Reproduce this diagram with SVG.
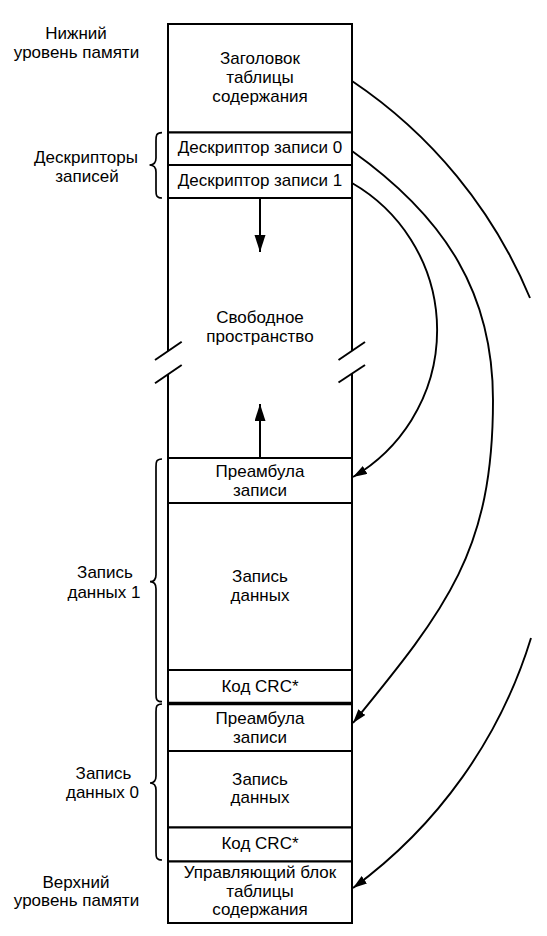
<svg xmlns="http://www.w3.org/2000/svg" width="547" height="936" viewBox="0 0 547 936">
  <style>
    .t { font-family: "Liberation Sans", Arial, sans-serif; font-size: 17px; fill: #000; text-anchor: middle; }
    .box { fill: #fff; stroke: #000; stroke-width: 2; }
    .ln { stroke: #000; stroke-width: 2; fill: none; }
    .br { stroke: #000; stroke-width: 1.7; fill: none; }
    .arc { stroke: #000; stroke-width: 1.9; fill: none; }
  </style>
  <defs>
    <marker id="ah" markerUnits="userSpaceOnUse" markerWidth="15" markerHeight="10" refX="14" refY="4.5" orient="auto">
      <path d="M0,0 L14,4.5 L0,9 z" fill="#000"/>
    </marker>
    <marker id="ahv" markerUnits="userSpaceOnUse" markerWidth="18" markerHeight="12" refX="17" refY="5.5" orient="auto">
      <path d="M0,0 L17,5.5 L0,11 z" fill="#000"/>
    </marker>
  </defs>
  <rect width="547" height="936" fill="#fff"/>

  <!-- Left labels -->
  <g id="label-lower-memory">
    <text class="t" x="76" y="38.5">Нижний</text>
    <text class="t" x="76.5" y="57.5">уровень памяти</text>
  </g>
  <g id="label-descriptors">
    <text class="t" x="86" y="163">Дескрипторы</text>
    <text class="t" x="87" y="182">записей</text>
    <path class="br" d="M162,132.7 C156,132.7 156,135.7 156,140.7 L156,158 C156,163 154,165 149.5,165 C154,165 156,167 156,172 L156,190 C156,195 156,198 162,198"/>
  </g>
  <g id="label-record1">
    <text class="t" x="105" y="578">Запись</text>
    <text class="t" x="104" y="597.5">данных 1</text>
    <path class="br" d="M162,459 C156,459 156,462 156,467 L156,574.7 C156,579.7 154,581.7 150,581.7 C154,581.7 156,583.7 156,588.7 L156,693.7 C156,698.7 156,701.7 162,701.7"/>
  </g>
  <g id="label-record0">
    <text class="t" x="103.5" y="778.5">Запись</text>
    <text class="t" x="102.5" y="797.5">данных 0</text>
    <path class="br" d="M162,704 C156,704 156,707 156,712 L156,776 C156,781 154,783 150,783 C154,783 156,785 156,790 L156,852 C156,857 156,860 162,860"/>
  </g>
  <g id="label-upper-memory">
    <text class="t" x="76" y="887.5">Верхний</text>
    <text class="t" x="76.5" y="906">уровень памяти</text>
  </g>

  <!-- Memory column nodes -->
  <g id="toc-header">
    <rect class="box" x="168" y="24" width="184" height="108.5"/>
    <text class="t" x="260" y="64">Заголовок</text>
    <text class="t" x="260" y="83.3">таблицы</text>
    <text class="t" x="260" y="101.7">содержания</text>
  </g>
  <g id="descriptor-0">
    <rect class="box" x="168" y="132.5" width="184" height="32.5"/>
    <text class="t" x="260" y="153.3">Дескриптор записи 0</text>
  </g>
  <g id="descriptor-1">
    <rect class="box" x="168" y="165" width="184" height="33"/>
    <text class="t" x="260" y="186">Дескриптор записи 1</text>
  </g>
  <g id="free-space">
    <line class="ln" x1="168" y1="198" x2="168" y2="351"/>
    <line class="ln" x1="168" y1="374.4" x2="168" y2="458"/>
    <line class="ln" x1="352" y1="198" x2="352" y2="350.7"/>
    <line class="ln" x1="352" y1="373.7" x2="352" y2="458"/>
    <line class="ln" x1="155" y1="360" x2="181.7" y2="341.7"/>
    <line class="ln" x1="155" y1="383.3" x2="181.7" y2="365"/>
    <line class="ln" x1="338.5" y1="360" x2="365" y2="342"/>
    <line class="ln" x1="338.5" y1="382.5" x2="365" y2="365"/>
    <text class="t" x="260" y="323">Свободное</text>
    <text class="t" x="260" y="342">пространство</text>
  </g>
  <g id="preamble-1">
    <rect class="box" x="168" y="458" width="184" height="45"/>
    <text class="t" x="260" y="477">Преамбула</text>
    <text class="t" x="260" y="496">записи</text>
  </g>
  <g id="data-1">
    <rect class="box" x="168" y="503" width="184" height="167"/>
    <text class="t" x="260" y="581.7">Запись</text>
    <text class="t" x="260" y="600.7">данных</text>
  </g>
  <g id="crc-1">
    <rect class="box" x="168" y="670" width="184" height="33.5"/>
    <text class="t" x="260" y="691.7">Код CRC*</text>
  </g>
  <g id="preamble-0">
    <rect class="box" x="168" y="703.5" width="184" height="47.5"/>
    <line x1="168" y1="703.5" x2="352" y2="703.5" stroke="#000" stroke-width="3.5"/>
    <text class="t" x="260" y="724">Преамбула</text>
    <text class="t" x="260" y="742.7">записи</text>
  </g>
  <g id="data-0">
    <rect class="box" x="168" y="751" width="184" height="76.5"/>
    <text class="t" x="260" y="785">Запись</text>
    <text class="t" x="260" y="803.3">данных</text>
  </g>
  <g id="crc-0">
    <rect class="box" x="168" y="827.5" width="184" height="34"/>
    <text class="t" x="260" y="849.3">Код CRC*</text>
  </g>
  <g id="toc-control">
    <rect class="box" x="168" y="861.5" width="184" height="61.5"/>
    <text class="t" x="260" y="878.3">Управляющий блок</text>
    <text class="t" x="260" y="897.3">таблицы</text>
    <text class="t" x="260" y="915">содержания</text>
  </g>

  <!-- Connectors -->
  <g id="connectors">
    <path class="ln" d="M260,198 L260,252" marker-end="url(#ahv)"/>
    <path class="ln" d="M260,458 L260,404" marker-end="url(#ahv)"/>
    <path class="arc" d="M352,81 A486,486 0 0 1 530,298"/>
    <path class="arc" d="M531,638 A486,486 0 0 1 353,888" marker-end="url(#ah)"/>
    <path class="arc" d="M352,151 C447,218.5 493,295 493,400 C493,550 447.5,607.5 353,723" marker-end="url(#ah)"/>
    <path class="arc" d="M352,183 A170,170 0 0 1 353,477" marker-end="url(#ah)"/>
  </g>
</svg>
